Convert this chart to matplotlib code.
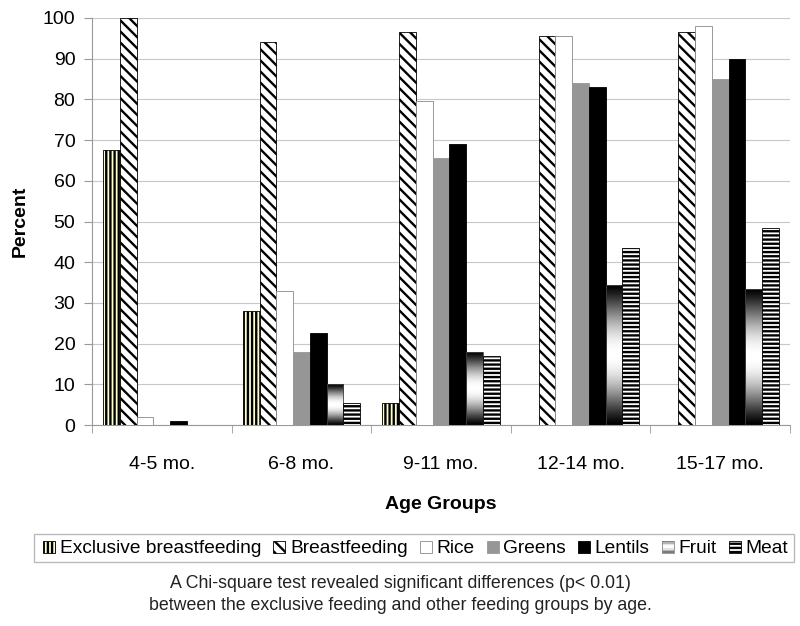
import matplotlib
matplotlib.use('Agg')
import matplotlib.pyplot as plt
import numpy as np
from matplotlib.patches import Rectangle
from matplotlib.legend_handler import HandlerBase

plt.rcParams['font.family'] = ['Liberation Sans', 'DejaVu Sans']
plt.rcParams['hatch.linewidth'] = 1.7

# data
age_groups = ['4-5 mo.', '6-8 mo.', '9-11 mo.', '12-14 mo.', '15-17 mo.']
series = ['Exclusive breastfeeding', 'Breastfeeding', 'Rice', 'Greens',
          'Lentils', 'Fruit', 'Meat']
exclusive_bf = [67.5, 28, 5.5, 0, 0]
breastfeeding = [100, 94, 96.5, 95.5, 96.5]
rice = [2, 33, 79.5, 95.5, 98]
greens = [0, 18, 65.5, 84, 85]
lentils = [1, 22.5, 69, 83, 90]
fruit = [0, 10, 18, 34.5, 33.5]
meat = [0, 5.5, 17, 43.5, 48.5]
values = [exclusive_bf, breastfeeding, rice, greens, lentils, fruit, meat]

# styles for each series
styles = [
    dict(facecolor='#ffffcc', hatch='||||', edgecolor='black'),
    dict(facecolor='white', hatch='\\\\\\', edgecolor='black'),
    dict(facecolor='white', hatch=None, edgecolor='#888888'),
    dict(facecolor='#969696', hatch=None, edgecolor='#969696'),
    dict(facecolor='black', hatch=None, edgecolor='black'),
    dict(facecolor='none', hatch=None, edgecolor='#444444'),
    dict(facecolor='white', hatch='----', edgecolor='black'),
]

fig = plt.figure(figsize=(8, 6.26), dpi=100)
ax = fig.add_axes([92 / 800, 1 - 425 / 626, 698 / 800, 407 / 626])

x = np.arange(len(age_groups))
width = 0.12
# dark at top and bottom, white in the middle
grad = np.sin(np.linspace(0, np.pi, 200))[:, None] ** 1.3

handles = []
for i, (name, vals, st) in enumerate(zip(series, values, styles)):
    offs = (i - 3) * width
    bars = ax.bar(x + offs, vals, width, facecolor=st['facecolor'],
                  edgecolor=st['edgecolor'], hatch=st['hatch'],
                  linewidth=0.6, zorder=3, label=name)
    if name == 'Fruit':
        for b in bars:
            h = b.get_height()
            if h <= 0:
                continue
            x0 = b.get_x()
            im = ax.imshow(grad, cmap='gray', vmin=0, vmax=1, aspect='auto',
                           extent=(x0, x0 + width, 0, h), zorder=2.5,
                           interpolation='bilinear')
            im.set_clip_path(b)
    handles.append(bars)


class GradHandler(HandlerBase):
    def create_artists(self, legend, orig_handle, xdescent, ydescent,
                       width, height, fontsize, trans):
        arts = []
        n = 8
        s = height * 0.9
        x0 = xdescent + width - s
        y0 = -ydescent
        for k in range(n):
            v = np.sin(np.pi * (k + 0.5) / n)
            g = 0.35 + 0.65 * v
            arts.append(Rectangle((x0, y0 + k * s / n), s, s / n,
                                  facecolor=(g, g, g), edgecolor='none',
                                  transform=trans))
        arts.append(Rectangle((x0, y0), s, s, facecolor='none',
                              edgecolor='#888888', lw=0.6, transform=trans))
        return arts


class SquareHandler(HandlerBase):
    def create_artists(self, legend, orig_handle, xdescent, ydescent,
                       width, height, fontsize, trans):
        p = orig_handle.patches[0]
        s = height * 0.9
        r = Rectangle((xdescent + width - s, -ydescent), s, s,
                      facecolor=p.get_facecolor(), edgecolor=p.get_edgecolor(),
                      hatch=p.get_hatch(), lw=0.6, transform=trans)
        return [r]


hmap = {h: SquareHandler() for h in handles}
hmap[handles[5]] = GradHandler()

ax.set_xlim(-0.5, len(age_groups) - 0.5)
ax.set_ylim(0, 100)
ax.set_yticks(np.arange(0, 101, 10))
ax.set_xticks(x)
ax.set_xticklabels(age_groups, fontsize=14)
ax.set_xticks(np.arange(-0.5, len(age_groups)), minor=True)
ax.tick_params(axis='x', which='major', length=0, pad=22)
ax.tick_params(axis='x', which='minor', length=6, color='#999999')
ax.tick_params(axis='y', labelsize=14, length=6, color='#999999', pad=6)
ax.grid(axis='y', color='#c8c8c8', linewidth=0.8, zorder=0)
ax.set_axisbelow(True)
for sp in ['top', 'right']:
    ax.spines[sp].set_visible(False)
for sp in ['left', 'bottom']:
    ax.spines[sp].set_color('#999999')
    ax.spines[sp].set_linewidth(0.8)

ax.set_ylabel('Percent', fontsize=14, fontweight='bold', labelpad=10)
ax.set_xlabel('Age Groups', fontsize=14, fontweight='bold', labelpad=17)

fig.legend(handles, series, handler_map=hmap, loc='center',
           bbox_to_anchor=(414 / 800, 1 - 548 / 626), ncol=7, fontsize=13.8,
           frameon=True, fancybox=False, edgecolor='#aaaaaa',
           handlelength=0.8, handletextpad=0.25, columnspacing=0.45,
           borderpad=0.3)

fig.text(0.5, 1 - 583 / 626,
         'A Chi-square test revealed significant differences (p< 0.01)',
         ha='center', va='center', fontsize=12.8, color='#222222')
fig.text(0.5, 1 - 606 / 626,
         'between the exclusive feeding and other feeding groups by age.',
         ha='center', va='center', fontsize=12.8, color='#222222')

fig.savefig('out.png', dpi=100)
